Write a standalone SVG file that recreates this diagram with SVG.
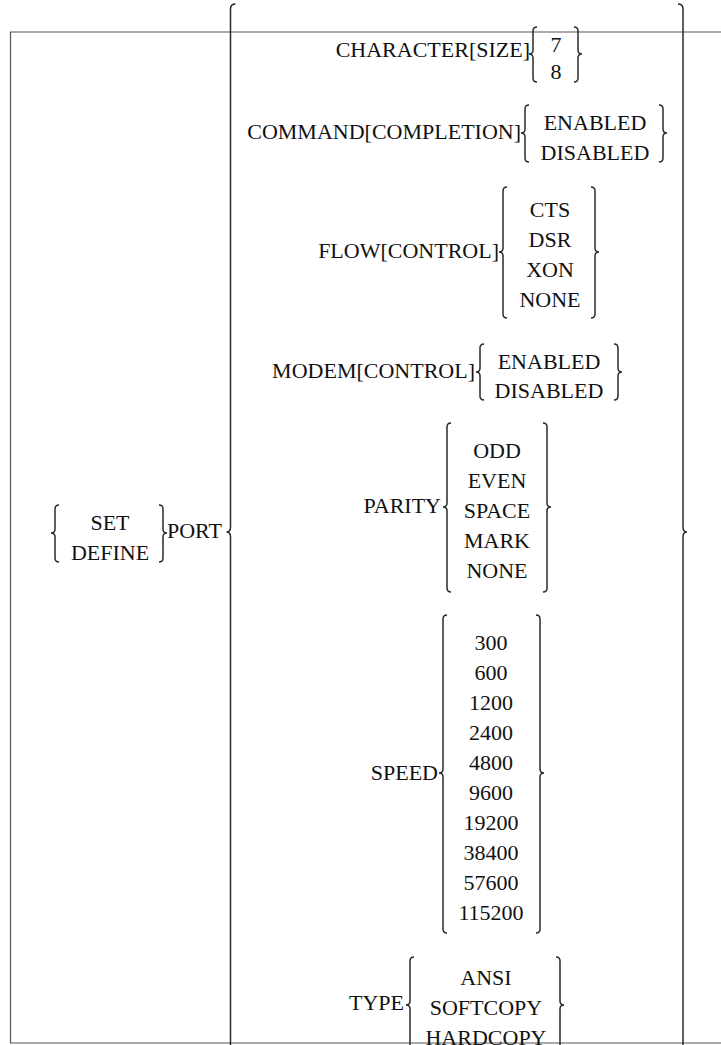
<svg xmlns="http://www.w3.org/2000/svg" width="721" height="1045" viewBox="0 0 721 1045">
<style>
text{font-family:"Liberation Serif","Times New Roman",serif;font-size:22px;fill:#111}
.l{text-anchor:end}
.c{text-anchor:middle}
.b{fill:none;stroke:#2a2a2a;stroke-width:1.5}
.f{fill:none;stroke:#555;stroke-width:1.2}
</style>
<rect width="721" height="1045" fill="#fff"/>
<g id="frame"><path class="f" d="M721 32 H10.5 V1043 H721"/></g>
<g id="outer-braces">
<path class="b" d="M235.5 4 Q230.5 4 230.5 9 V527 Q230.5 532 226.5 532 Q230.5 532 230.5 537 V1055 Q230.5 1060 235.5 1060"/>
<path class="b" d="M678 4 Q683 4 683 9 V527 Q683 532 687 532 Q683 532 683 537 V1055 Q683 1060 678 1060"/>
</g>
<g id="set-define">
<path class="b" d="M59 505 Q55 505 55 509 V529 Q55 533 51 533 Q55 533 55 537 V558 Q55 562 59 562"/>
<text class="c" x="110" y="530">SET</text>
<text class="c" x="110" y="560">DEFINE</text>
<path class="b" d="M159 505 Q163 505 163 509 V529 Q163 533 167 533 Q163 533 163 537 V558 Q163 562 159 562"/>
<text x="167" y="538">PORT</text>
</g>
<g id="character-size">
<text class="l" x="530" y="57">CHARACTER[SIZE]</text>
<path class="b" d="M537 27 Q533 27 533 31 V50 Q533 54 529 54 Q533 54 533 58 V78 Q533 82 537 82"/>
<text class="c" x="556" y="52">7</text>
<text class="c" x="556" y="79">8</text>
<path class="b" d="M574 27 Q578 27 578 31 V50 Q578 54 582 54 Q578 54 578 58 V78 Q578 82 574 82"/>
</g>
<g id="command-completion">
<text class="l" x="521" y="139">COMMAND[COMPLETION]</text>
<path class="b" d="M529 105 Q525 105 525 109 V129 Q525 133 521 133 Q525 133 525 137 V158 Q525 162 529 162"/>
<text class="c" x="595" y="130">ENABLED</text>
<text class="c" x="595" y="160">DISABLED</text>
<path class="b" d="M659 105 Q663 105 663 109 V129 Q663 133 667 133 Q663 133 663 137 V158 Q663 162 659 162"/>
</g>
<g id="flow-control">
<text class="l" x="499" y="258">FLOW[CONTROL]</text>
<path class="b" d="M507 187 Q503 187 503 191 V248 Q503 252 499 252 Q503 252 503 256 V314 Q503 318 507 318"/>
<text class="c" x="550" y="217">CTS</text>
<text class="c" x="550" y="247">DSR</text>
<text class="c" x="550" y="277">XON</text>
<text class="c" x="550" y="307">NONE</text>
<path class="b" d="M591 187 Q595 187 595 191 V248 Q595 252 599 252 Q595 252 595 256 V314 Q595 318 591 318"/>
</g>
<g id="modem-control">
<text class="l" x="475" y="378">MODEM[CONTROL]</text>
<path class="b" d="M484 344 Q480 344 480 348 V368 Q480 372 476 372 Q480 372 480 376 V396 Q480 400 484 400"/>
<text class="c" x="549" y="369">ENABLED</text>
<text class="c" x="549" y="398">DISABLED</text>
<path class="b" d="M614 344 Q618 344 618 348 V368 Q618 372 622 372 Q618 372 618 376 V396 Q618 400 614 400"/>
</g>
<g id="parity">
<text class="l" x="441" y="513">PARITY</text>
<path class="b" d="M451 423 Q447 423 447 427 V503 Q447 507 443 507 Q447 507 447 511 V588 Q447 592 451 592"/>
<text class="c" x="497" y="458">ODD</text>
<text class="c" x="497" y="488">EVEN</text>
<text class="c" x="497" y="518">SPACE</text>
<text class="c" x="497" y="548">MARK</text>
<text class="c" x="497" y="578">NONE</text>
<path class="b" d="M543 423 Q547 423 547 427 V503 Q547 507 551 507 Q547 507 547 511 V588 Q547 592 543 592"/>
</g>
<g id="speed">
<text class="l" x="438" y="780">SPEED</text>
<path class="b" d="M447 615 Q443 615 443 619 V769 Q443 773 439 773 Q443 773 443 777 V929 Q443 933 447 933"/>
<text class="c" x="491" y="650">300</text>
<text class="c" x="491" y="680">600</text>
<text class="c" x="491" y="710">1200</text>
<text class="c" x="491" y="740">2400</text>
<text class="c" x="491" y="770">4800</text>
<text class="c" x="491" y="800">9600</text>
<text class="c" x="491" y="830">19200</text>
<text class="c" x="491" y="860">38400</text>
<text class="c" x="491" y="890">57600</text>
<text class="c" x="491" y="920">115200</text>
<path class="b" d="M536 615 Q540 615 540 619 V769 Q540 773 544 773 Q540 773 540 777 V929 Q540 933 536 933"/>
</g>
<g id="type">
<text class="l" x="404" y="1010">TYPE</text>
<path class="b" d="M414 957 Q410 957 410 961 V1001 Q410 1005 406 1005 Q410 1005 410 1009 V1049 Q410 1053 414 1053"/>
<text class="c" x="486" y="985">ANSI</text>
<text class="c" x="486" y="1015">SOFTCOPY</text>
<text class="c" x="486" y="1045">HARDCOPY</text>
<path class="b" d="M556 957 Q560 957 560 961 V1001 Q560 1005 564 1005 Q560 1005 560 1009 V1049 Q560 1053 556 1053"/>
</g>
</svg>
